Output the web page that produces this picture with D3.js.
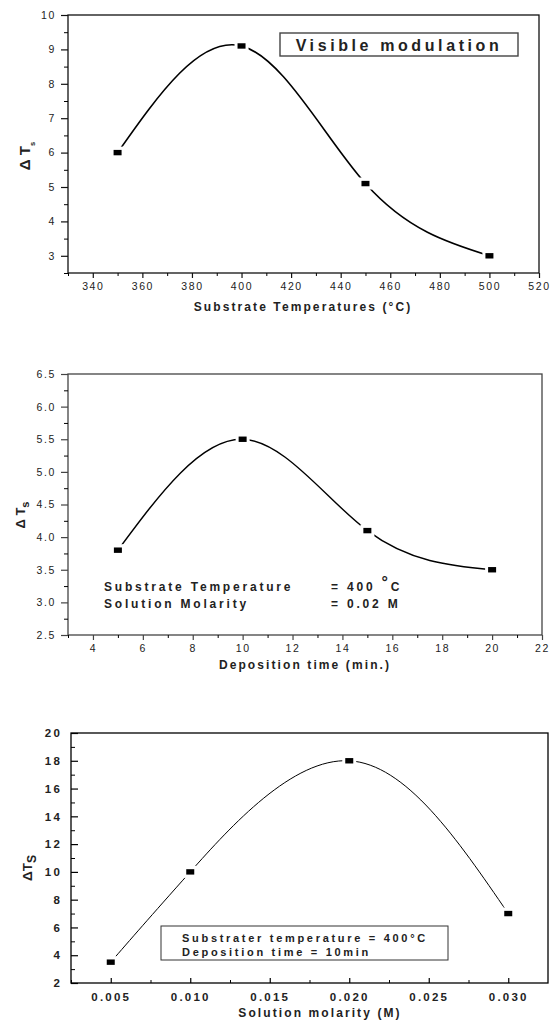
<!DOCTYPE html>
<html>
<head>
<meta charset="utf-8">
<script src="https://cdn.jsdelivr.net/npm/d3@7"></script>
<style>
  body { margin: 0; background: #fff; }
  svg { display: block; font-family: "Liberation Sans", Arial, sans-serif; }
  text { fill: #222; }
</style>
</head>
<body>
<svg id="fig" width="551" height="1021"></svg>
<script>
// panel 1: substrate temperature
const tempX = [350, 400, 450, 500];
const tempY = [6, 9.1, 5.1, 3];
const tempXTicks = [340, 360, 380, 400, 420, 440, 460, 480, 500, 520];
const tempYTicks = [3, 4, 5, 6, 7, 8, 9, 10];

// panel 2: deposition time
const timeX = [5, 10, 15, 20];
const timeY = [3.8, 5.5, 4.1, 3.5];
const timeXTicks = [4, 6, 8, 10, 12, 14, 16, 18, 20, 22];
const timeYTicks = [2.5, 3.0, 3.5, 4.0, 4.5, 5.0, 5.5, 6.0, 6.5];

// panel 3: solution molarity
const molX = [0.005, 0.010, 0.020, 0.030];
const molY = [3.5, 10, 18, 7];
const molXTicks = [0.005, 0.010, 0.015, 0.020, 0.025, 0.030];
const molYTicks = [2, 4, 6, 8, 10, 12, 14, 16, 18, 20];

const svg = d3.select("#fig");

function midpoints(ticks) {
    let out = [];
    for (let i = 0; i < ticks.length - 1; i++) out.push((ticks[i] + ticks[i + 1]) / 2);
    return out;
}

function panel(o) {
    const g = svg.append("g");
    const x = d3.scaleLinear().domain(o.xDomain).range([o.left, o.right]);
    const y = d3.scaleLinear().domain(o.yDomain).range([o.bottom, o.top]);
    const dir = o.inward ? -1 : 1;
    const lc = o.lineColor;

    // frame
    g.append("rect")
        .attr("x", o.left).attr("y", o.top)
        .attr("width", o.right - o.left).attr("height", o.bottom - o.top)
        .attr("fill", "none").attr("stroke", lc).attr("stroke-width", 1.3);

    // minor ticks
    let xMinor = o.xMinor || midpoints(o.xTicks);
    let yMinor = o.yMinor || midpoints(o.yTicks);
    g.append("g").attr("transform", `translate(0,${o.bottom})`)
        .call(d3.axisBottom(x).tickValues(xMinor).tickSize(3 * dir).tickSizeOuter(0).tickFormat(""))
        .call(a => a.select(".domain").remove());
    g.append("g").attr("transform", `translate(${o.left},0)`)
        .call(d3.axisLeft(y).tickValues(yMinor).tickSize(4 * dir).tickSizeOuter(0).tickFormat(""))
        .call(a => a.select(".domain").remove());

    // major ticks
    const xa = g.append("g").attr("transform", `translate(0,${o.bottom})`)
        .call(d3.axisBottom(x).tickValues(o.xTicks).tickSize(5 * dir).tickSizeOuter(0)
            .tickPadding(o.inward ? 10 : 5).tickFormat(o.xFormat));
    const ya = g.append("g").attr("transform", `translate(${o.left},0)`)
        .call(d3.axisLeft(y).tickValues(o.yTicks).tickSize(7 * dir).tickSizeOuter(0)
            .tickPadding(o.inward ? 9 : 5).tickFormat(o.yFormat));
    [xa, ya].forEach(a => {
        a.select(".domain").remove();
        a.selectAll("line").attr("stroke", lc).attr("stroke-width", 1.2);
        a.selectAll("text")
            .attr("fill", o.tickColor)
            .style("font-family", "'Liberation Sans', Arial, sans-serif")
            .style("font-size", o.tickFont + "px")
            .style("font-weight", o.tickBold ? "bold" : "normal")
            .style("letter-spacing", o.tickSpacing + "px");
    });

    // curve
    const pts = o.xs.map((d, i) => [d, o.ys[i]]);
    g.append("path")
        .datum(pts)
        .attr("fill", "none").attr("stroke", "#000").attr("stroke-width", o.curveWidth)
        .attr("d", d3.line().x(d => x(d[0])).y(d => y(d[1])).curve(d3.curveNatural));

    // markers with gap
    g.selectAll(".gap").data(pts).enter().append("rect")
        .attr("x", d => x(d[0]) - 7).attr("y", d => y(d[1]) - 6)
        .attr("width", 14).attr("height", 12).attr("fill", "#fff");
    g.selectAll(".mk").data(pts).enter().append("rect")
        .attr("x", d => x(d[0]) - 4).attr("y", d => y(d[1]) - 2.7)
        .attr("width", 8).attr("height", 5.4).attr("fill", "#000");

    // x title
    g.append("text")
        .attr("x", o.xTitleX).attr("y", o.xTitleY)
        .attr("text-anchor", "middle")
        .style("font-size", "12px").style("font-weight", "bold")
        .style("letter-spacing", "2.1px")
        .text(o.xTitle);

    // y title: delta T with subscript
    const yt = g.append("text")
        .attr("transform", `translate(${o.yTitleX},${o.yTitleY}) rotate(-90)`)
        .attr("text-anchor", "middle")
        .style("font-size", o.yTitleFont + "px").style("font-weight", "bold");
    yt.append("tspan").text(o.yTitleMain);
    yt.append("tspan").attr("dy", o.yTitleFont * 0.3)
        .style("font-size", (o.yTitleFont * o.subScale) + "px").text(o.yTitleSub);

    return { g, x, y };
}

// ---- panel 1
const p1 = panel({
    xs: tempX, ys: tempY, xTicks: tempXTicks, yTicks: tempYTicks,
    xDomain: [330, 520], yDomain: [2.5, 10],
    left: 68, right: 539, top: 15, bottom: 273,
    yMinor: [2.5, 3.5, 4.5, 5.5, 6.5, 7.5, 8.5, 9.5],
    xMinor: [330, 350, 370, 390, 410, 430, 450, 470, 490, 510],
    lineColor: "#111", inward: false, tickColor: "#333",
    xFormat: d3.format("d"), yFormat: d3.format("d"),
    tickFont: 10.5, tickBold: false, tickSpacing: 1.6, curveWidth: 1.6,
    xTitle: "Substrate Temperatures (°C)", xTitleX: 303, xTitleY: 311,
    yTitleMain: "Δ T", yTitleSub: "s", yTitleFont: 15, subScale: 0.5,
    yTitleX: 30, yTitleY: 156
});
p1.g.append("rect")
    .attr("x", 280).attr("y", 33).attr("width", 238).attr("height", 23)
    .attr("fill", "#fff").attr("stroke", "#444").attr("stroke-width", 1.4);
p1.g.append("text")
    .attr("x", 399).attr("y", 50.5).attr("text-anchor", "middle")
    .style("font-size", "16px").style("font-weight", "bold").style("letter-spacing", "3.6px")
    .text("Visible modulation");

// ---- panel 2
const p2 = panel({
    xs: timeX, ys: timeY, xTicks: timeXTicks, yTicks: timeYTicks,
    xDomain: [3, 22], yDomain: [2.5, 6.5],
    left: 68, right: 542, top: 374, bottom: 635,
    yMinor: [2.75, 3.25, 3.75, 4.25, 4.75, 5.25, 5.75, 6.25],
    xMinor: [3, 5, 7, 9, 11, 13, 15, 17, 19, 21],
    lineColor: "#444", inward: false, tickColor: "#333",
    xFormat: d3.format("d"), yFormat: d3.format(".1f"),
    tickFont: 10.5, tickBold: false, tickSpacing: 1.6, curveWidth: 1.4,
    xTitle: "Deposition time (min.)", xTitleX: 305, xTitleY: 669,
    yTitleMain: "Δ T", yTitleSub: "s", yTitleFont: 13, subScale: 0.85,
    yTitleX: 25, yTitleY: 515
});
const note2 = [
    ["Substrate Temperature", "400 ", "°", "C", 590.5],
    ["Solution Molarity", "0.02 M", "", "", 608]
];
note2.forEach(r => {
    p2.g.append("text").attr("x", 104).attr("y", r[4])
        .style("font-size", "12px").style("font-weight", "bold").style("letter-spacing", "2.8px")
        .text(r[0]);
    const t = p2.g.append("text").attr("x", 331).attr("y", r[4])
        .style("font-size", "12px").style("font-weight", "bold").style("letter-spacing", "2.8px");
    t.append("tspan").text("=  " + r[1]);
    if (r[2]) {
        t.append("tspan").attr("dy", -3).style("font-size", "16px").text(r[2]);
        t.append("tspan").attr("dy", 3).text(r[3]);
    }
});

// ---- panel 3
const p3 = panel({
    xs: molX, ys: molY, xTicks: molXTicks, yTicks: molYTicks,
    xDomain: [0.0025, 0.0325], yDomain: [2, 20],
    left: 71, right: 548, top: 733, bottom: 983,
    xMinor: [0.0025, 0.0075, 0.0125, 0.0175, 0.0225, 0.0275],
    lineColor: "#000", inward: true, tickColor: "#111",
    xFormat: d3.format(".3f"), yFormat: d3.format("d"),
    tickFont: 11.5, tickBold: true, tickSpacing: 2.2, curveWidth: 1,
    xTitle: "Solution molarity (M)", xTitleX: 320, xTitleY: 1017,
    yTitleMain: "ΔT", yTitleSub: "S", yTitleFont: 13.5, subScale: 0.9,
    yTitleX: 32, yTitleY: 868
});
p3.g.append("rect")
    .attr("x", 161).attr("y", 926).attr("width", 287).attr("height", 34)
    .attr("fill", "#fff").attr("stroke", "#333").attr("stroke-width", 1);
const note3 = [
    ["Substrater temperature = 400", "°", "C", 941.5],
    ["Deposition time = 10min", "", "", 956]
];
note3.forEach(r => {
    const t = p3.g.append("text").attr("x", 182).attr("y", r[3])
        .style("font-size", "11px").style("font-weight", "bold").style("letter-spacing", "2.7px");
    t.append("tspan").text(r[0]);
    if (r[1]) {
        t.append("tspan").text(r[1]);
        t.append("tspan").text(r[2]);
    }
});
</script>
</body>
</html>
